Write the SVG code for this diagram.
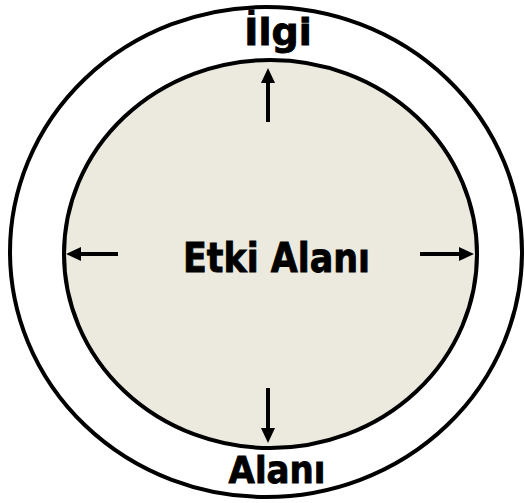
<svg xmlns="http://www.w3.org/2000/svg" width="525" height="503" viewBox="0 0 525 503">
<defs>
<style>
.ring{stroke:#000;stroke-width:4}
.lbl{font-family:"DejaVu Sans","Liberation Sans",sans-serif;font-weight:bold;fill:#000;stroke:#000;stroke-width:0.9}
.arr{stroke:#000;stroke-width:4;fill:none}
</style>
<marker id="ah" viewBox="0 0 15 14" refX="0" refY="7" markerWidth="15" markerHeight="14" markerUnits="userSpaceOnUse" orient="auto">
<path d="M0,0 L15,7 L0,14 Z" fill="#000"/>
</marker>
</defs>
<rect width="525" height="503" fill="#fff"/>
<g id="ilgi-alani">
<ellipse class="ring" cx="266" cy="252" rx="256" ry="245" fill="#fff"/>
<text class="lbl" x="278" y="45" font-size="38" text-anchor="middle">İlgi</text>
<text class="lbl" x="277" y="483" font-size="38" text-anchor="middle" textLength="97" lengthAdjust="spacingAndGlyphs">Alanı</text>
</g>
<g id="etki-alani">
<ellipse class="ring" cx="270.5" cy="254" rx="206.5" ry="194" fill="#ECE9DF"/>
<text class="lbl" x="276.5" y="272" font-size="40" text-anchor="middle" textLength="187" lengthAdjust="spacingAndGlyphs">Etki Alanı</text>
</g>
<g id="connectors">
<line class="arr" x1="268" y1="122" x2="268" y2="83" marker-end="url(#ah)"/>
<line class="arr" x1="268" y1="388" x2="268" y2="428" marker-end="url(#ah)"/>
<line class="arr" x1="118" y1="254" x2="81" y2="254" marker-end="url(#ah)"/>
<line class="arr" x1="420" y1="254" x2="459" y2="254" marker-end="url(#ah)"/>
</g>
</svg>
